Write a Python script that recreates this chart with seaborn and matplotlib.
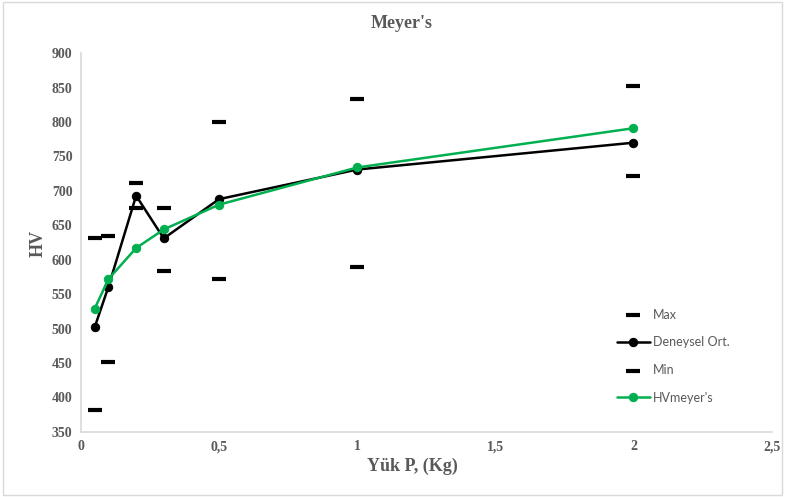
import matplotlib
matplotlib.use("Agg")
import matplotlib.pyplot as plt
from matplotlib.patches import Rectangle
import seaborn as sns
import pandas as pd

# Yük (kg)
loads = [0.05, 0.1, 0.2, 0.3, 0.5, 1, 2]
hv_max = [632, 635, 711, 675, 800, 833, 853]
hv_ort = [502, 561, 693, 631, 688, 731, 770]
hv_min = [382, 452, 675, 584, 572, 589, 722]
hv_meyer = [529, 572, 617, 644, 680, 734, 791]

x_ticks = [0, 0.5, 1, 1.5, 2, 2.5]
x_tick_labels = ["0", "0,5", "1", "1,5", "2", "2,5"]
y_ticks = list(range(350, 901, 50))

GREEN = "#00b050"
GREY_TXT = "#595959"
GREY_LINE = "#d9d9d9"

sns.set_theme(style="white")
plt.rcParams["font.family"] = ["Liberation Serif", "DejaVu Serif"]

df = pd.DataFrame({"P": loads, "Max": hv_max, "Ort": hv_ort,
                   "Min": hv_min, "Meyer": hv_meyer})

fig = plt.figure(figsize=(7.85, 4.97), dpi=100)
ax = fig.add_axes([0.103, 0.131, 0.880, 0.762])

sns.scatterplot(ax=ax, data=df, x="P", y="Max", marker="_", s=100,
                linewidth=3, color="black", label="Max")
sns.lineplot(ax=ax, data=df, x="P", y="Ort", marker="o", markersize=6,
             linewidth=1.8, color="black", markeredgecolor="black",
             label="Deneysel Ort.")
sns.scatterplot(ax=ax, data=df, x="P", y="Min", marker="_", s=100,
                linewidth=3, color="black", label="Min")
sns.lineplot(ax=ax, data=df, x="P", y="Meyer", marker="o", markersize=6,
             linewidth=1.8, color=GREEN, markeredgecolor=GREEN,
             label="HVmeyer's")

ax.set_xlim(0, 2.5)
ax.set_ylim(350, 900)
ax.set_xticks(x_ticks)
ax.set_xticklabels(x_tick_labels)
ax.set_yticks(y_ticks)
ax.tick_params(length=0, labelsize=10, labelcolor=GREY_TXT, pad=6)
for lbl in ax.get_xticklabels() + ax.get_yticklabels():
    lbl.set_fontweight("bold")

for side in ["top", "right"]:
    ax.spines[side].set_visible(False)
for side in ["left", "bottom"]:
    ax.spines[side].set_color(GREY_LINE)
    ax.spines[side].set_linewidth(1.2)

ax.set_xlabel("")
ax.set_ylabel("")
fig.text(412 / 785, 1 - 466 / 497, "Yük P, (Kg)", ha="center", va="center",
         fontsize=13, fontweight="bold", color=GREY_TXT)
fig.text(38 / 785, 1 - 243 / 497, "HV", ha="center", va="center",
         rotation=90, fontsize=13, fontweight="bold", color=GREY_TXT)
fig.text(402 / 785, 1 - 24 / 497, "Meyer's", ha="center", va="center",
         fontsize=13, fontweight="bold", color=GREY_TXT)

leg = ax.legend(loc="upper left", bbox_to_anchor=(0.76, 0.355), frameon=False,
                labelspacing=1.25, handlelength=2.6, handletextpad=0.3,
                prop={"family": "Lato", "size": 9})
for t in leg.get_texts():
    t.set_color(GREY_TXT)

# chart border
fig.patches.append(Rectangle((0.004, 0.004), 0.992, 0.992,
                             transform=fig.transFigure, fill=False,
                             edgecolor=GREY_LINE, linewidth=1))

fig.savefig("out.png", dpi=100)
